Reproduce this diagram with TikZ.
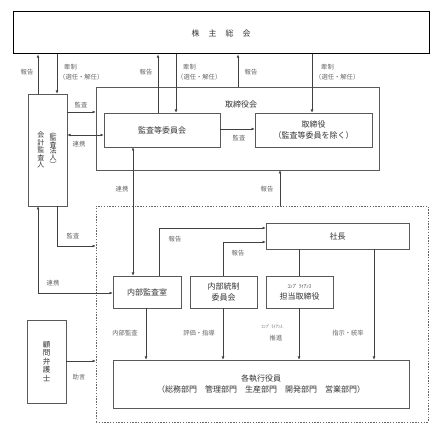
\documentclass[tikz,border=0pt]{standalone}
\usepackage{fontspec}
\setmainfont{Noto Sans CJK JP}
\usetikzlibrary{arrows.meta}
\begin{document}
\begin{tikzpicture}[x=1pt,y=-1pt,
  box/.style={draw=black!65, line width=0.6pt, fill=white, align=center, font=\fontsize{8}{10.5}\selectfont, text=black!80, inner sep=0pt},
  lbl/.style={font=\fontsize{6.3}{9.5}\selectfont, text=black!60, align=center, inner sep=0pt},
  arr/.style={draw=black!75, line width=0.6pt, -{Latex[length=3.2pt,width=2.8pt]}},
  darr/.style={draw=black!75, line width=0.6pt, {Latex[length=3.2pt,width=2.8pt]}-{Latex[length=3.2pt,width=2.8pt]}},
  ln/.style={draw=black!75, line width=0.6pt}]
\useasboundingbox[fill=white] (0,0) rectangle (442,435);

% columns and rows
\foreach \c in {38,57,133,146,158,159,176,223,238,280,299,312,374}{\coordinate (c\c) at (\c,0);}
\foreach \r in {112,129,135,228,242,246,293,361}{\coordinate (r\r) at (0,\r);}

% group frames
\node[draw=black!60, dash pattern=on 1.4pt off 1.4pt, line width=0.6pt, minimum width=332pt, minimum height=216pt, inner sep=0pt] (grp) at (262,314) {};
\node[box, minimum width=283pt, minimum height=83pt] (torikai) at (237.5,128.5) {};
\node[font=\fontsize{8}{10}\selectfont, text=black!80, inner sep=0pt] (torikailbl) at (241,104) {取締役会};

% boxes
\node[box, draw=black, line width=1pt, minimum width=416pt, minimum height=42pt] (soukai) at (221,33) {株\hspace{9pt}主\hspace{9pt}総\hspace{9pt}会};
\node[box, minimum width=39pt, minimum height=112pt] (kaikei) at (47.5,150) {};
\node[font=\fontsize{7}{7.4}\selectfont, text=black!80, align=center, inner sep=0pt] (kaikeiA) at (41,150) {会\\計\\監\\査\\人};
\node[font=\fontsize{7}{6.6}\selectfont, text=black!80, align=center, inner sep=0pt] (kaikeiB) at (53,150) {︵\\監\\査\\法\\人\\︶};
\node[box, minimum width=116pt, minimum height=34pt] (kansa) at (162,130) {監査等委員会};
\node[box, minimum width=117pt, minimum height=34pt] (torishimari) at (313.5,130) {取締役\\（監査等委員を除く）};
\node[box, minimum width=143pt, minimum height=26pt] (shacho) at (337.5,236) {社長};
\node[box, minimum width=68pt, minimum height=32pt] (naibu) at (147,292) {内部監査室};
\node[box, minimum width=67pt, minimum height=32pt] (tousei) at (223.5,292) {内部統制\\委員会};
\node[box, minimum width=67pt, minimum height=32pt] (comp) at (299.5,292) {{\fontsize{5}{7}\selectfont ｺﾝﾌﾟ ﾗｲｱﾝｽ}\\担当取締役};
\node[box, minimum width=296pt, minimum height=48pt] (shikko) at (261,384) {各執行役員\\（総務部門　管理部門　生産部門　開発部門　営業部門）};
\node[box, minimum width=39pt, minimum height=83pt, font=\fontsize{7.5}{8.5}\selectfont] (komon) at (46.5,361.5) {顧\\問\\弁\\護\\士};

% connectors
\draw[arr] (kaikei.north -| c38) -- (soukai.south -| c38);
\draw[arr] (soukai.south -| c57) -- (kaikei.north -| c57);
\draw[arr] (kansa.north -| c158) -- (soukai.south -| c158);
\draw[arr] (soukai.south -| c176) -- (kansa.north -| c176);
\draw[arr] (torikai.north -| c238) -- (soukai.south -| c238);
\draw[arr] (soukai.south -| c312) -- (torishimari.north -| c312);
\draw[arr] (kaikei.east |- r112) -- (torikai.west |- r112);
\draw[darr] (kaikei.east |- r135) -- (kansa.west |- r135);
\draw[arr] (kansa.east |- r129) -- (torishimari.west |- r129);
\draw[darr] (kansa.south -| c133) -- (naibu.north -| c133);
\draw[arr] (grp.north -| c280) -- (torikai.south -| c280);
\draw[arr] (kaikei.south -| c57) |- (grp.west |- r246);
\draw[darr] (kaikei.south -| c38) |- (naibu.west |- r293);
\draw[arr] (naibu.north -| c159) |- (shacho.west |- r228);
\draw[arr] (tousei.north -| c223) |- (shacho.west |- r242);
\draw[ln] (shacho.south -| c299) -- (comp.north -| c299);
\draw[arr] (shacho.south -| c374) -- (shikko.north -| c374);
\draw[arr] (naibu.south -| c146) -- (shikko.north -| c146);
\draw[arr] (tousei.south -| c223) -- (shikko.north -| c223);
\draw[arr] (comp.south -| c299) -- (shikko.north -| c299);
\draw[arr] (komon.east |- r361) -- (grp.west |- r361);

% labels
\node[lbl] (l1) at (27,72) {報告};
\node[lbl, anchor=west, align=left] (l2) at (59,72) {\hspace*{5pt}牽制\\（選任・解任）};
\node[lbl] (l3) at (146,72) {報告};
\node[lbl, anchor=west, align=left] (l4) at (177,72) {\hspace*{6pt}牽制\\（選任・解任）};
\node[lbl] (l5) at (251,72) {報告};
\node[lbl, anchor=west, align=left] (l6) at (315,72) {\hspace*{6pt}牽制\\（選任・解任）};
\node[lbl] (l7) at (81,105) {監査};
\node[lbl] (l8) at (79,144) {連携};
\node[lbl] (l9) at (239,138) {監査};
\node[lbl] (l10) at (122,189) {連携};
\node[lbl] (l11) at (267,189) {報告};
\node[lbl] (l12) at (73,236) {監査};
\node[lbl] (l13) at (53,283) {連携};
\node[lbl] (l14) at (175,239) {報告};
\node[lbl] (l15) at (238,253) {報告};
\node[lbl] (l16) at (125,333) {内部監査};
\node[lbl] (l17) at (199,333) {評価・指導};
\node[lbl, font=\fontsize{4.5}{6}\selectfont] (l18) at (272,327) {ｺﾝﾌﾟ ﾗｲｱﾝｽ};
\node[lbl] (l19) at (276,338) {推進};
\node[lbl] (l20) at (348,333) {指示・統率};
\node[lbl] (l21) at (79,377) {助言};
\end{tikzpicture}
\end{document}
